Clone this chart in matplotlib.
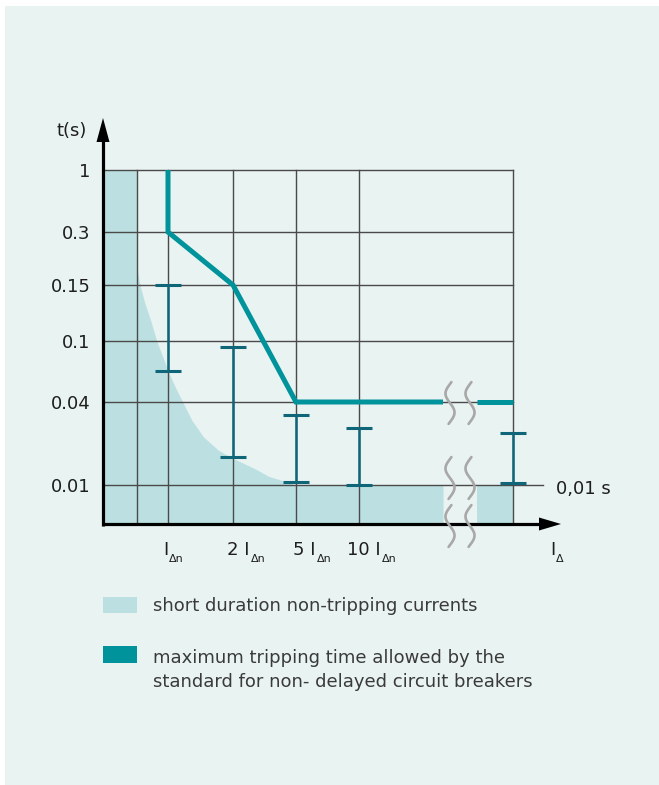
import numpy as np
import matplotlib
matplotlib.use("Agg")
import matplotlib.pyplot as plt
from matplotlib.patches import Rectangle, Polygon

plt.rcParams['font.family'] = ['DejaVu Sans']

# ---------------- data ----------------
y_ticks = [0.01, 0.04, 0.1, 0.15, 0.3, 1]
y_tick_labels = ['0.01', '0.04', '0.1', '0.15', '0.3', '1']
x_grid = [0.5, 1, 2, 5, 10, 50]            # multiples of I_dn (50 = far right, after break)
x_tick_vals = [1, 2, 5, 10]
x_tick_prefix = ['', '2 ', '5 ', '10 ']

# maximum tripping time (thick teal line), before and after the axis break
trip_x = [1, 1, 2, 5, 20]
trip_t = [1, 0.3, 0.15, 0.04, 0.04]
trip_x2 = [40, 50]
trip_t2 = [0.04, 0.04]

# tripping-time ranges (I-bars)
bar_x = [1, 2, 5, 10, 50]
bar_low = [0.064, 0.016, 0.0105, 0.01, 0.0103]
bar_high = [0.15, 0.092, 0.032, 0.026, 0.024]

# boundary of the short duration non-tripping region
nontrip_x = [0.5, 0.505, 0.548, 0.629, 0.721, 0.818, 0.915, 1.005, 1.108, 1.226,
             1.365, 1.543, 1.774, 1.954, 2.57, 3.14, 3.67, 4.24, 4.71, 5.0]
nontrip_t = [0.2, 0.182, 0.15, 0.131, 0.116, 0.1, 0.079, 0.063, 0.0504, 0.04,
             0.0296, 0.0224, 0.0179, 0.016, 0.0142, 0.0129, 0.0116, 0.0109, 0.0103, 0.01]

legend_labels = ['short duration non-tripping currents',
                 'maximum tripping time allowed by the\nstandard for non- delayed circuit breakers']

# ---------------- style ----------------
BG = '#E9F3F1'
FILL = '#BCE0E1'
TRIP = '#00939B'
BAR = '#0E6678'
GRID = '#4A4A4A'
SQUIG = '#A8A8A8'
TXT = '#1E1E1E'
LEG = '#3A3A3A'

W, H = 659, 785
fig = plt.figure(figsize=(W / 100, H / 100), dpi=100)
fig.patch.set_facecolor('white')

def fx(px):
    return px / W

def fy(py):
    return 1 - py / H

fig.add_artist(Rectangle((fx(5), 0), 1 - fx(5), fy(6), transform=fig.transFigure,
                         facecolor=BG, edgecolor='none', zorder=0))

# axes frame: x 103..513 px, y 170..524 px
AX_L, AX_R, AX_T, AX_B = 103, 513, 170, 524
AW, AH = AX_R - AX_L, AX_B - AX_T
ax = fig.add_axes([fx(AX_L), fy(AX_B), AW / W, AH / H])
ax.set_facecolor('none')

# schematic (non-uniform) scales
X_VALS = [0, 0.5, 1, 2, 5, 10, 20, 40, 50]
X_POS = [0, 34, 65, 130, 193, 256, 340, 374, 410]
Y_VALS = [0.005, 0.01, 0.04, 0.1, 0.15, 0.3, 1]
Y_POS = [0, 39, 122, 183, 239, 292, 354]
LY = np.log10(Y_VALS)

def xfwd(v):
    return np.interp(v, X_VALS, X_POS)

def xinv(p):
    return np.interp(p, X_POS, X_VALS)

def yfwd(t):
    t = np.clip(np.asarray(t, dtype=float), 1e-6, None)
    return np.interp(np.log10(t), LY, Y_POS)

def yinv(p):
    return 10 ** np.interp(p, Y_POS, LY)

ax.set_xscale('function', functions=(xfwd, xinv))
ax.set_yscale('function', functions=(yfwd, yinv))
ax.set_xlim(0, 50)
ax.set_ylim(0.005, 1)
ax.minorticks_off()

for s in ax.spines.values():
    s.set_visible(False)

# light non-tripping region
fx_pts = [0, 0.5] + nontrip_x + [20]
fy_pts = [1, 1] + nontrip_t + [0.01]
ax.fill_between(fx_pts, 0.005, fy_pts, color=FILL, lw=0, zorder=1)
ax.fill_between([40, 50], 0.005, 0.01, color=FILL, lw=0, zorder=1)

# grid
for v in x_grid:
    ax.axvline(v, color=GRID, lw=1.0, zorder=2, clip_on=False)
for t in y_ticks:
    if t == 0.01:
        ax.plot([0, 440 / AW], [t, t], transform=ax.get_yaxis_transform(),
                color=GRID, lw=1.0, zorder=2, clip_on=False)
    else:
        ax.axhline(t, color=GRID, lw=1.0, zorder=2, clip_on=False)

# tripping bars
bl = np.array(bar_low)
bh = np.array(bar_high)
ax.errorbar(bar_x, bl, yerr=[np.zeros_like(bl), bh - bl], fmt='none',
            ecolor=BAR, elinewidth=1.8, capsize=9.5, capthick=2.2, zorder=4,
            clip_on=False)

# max tripping time line
ax.plot(trip_x, trip_t, color=TRIP, lw=3.6, solid_joinstyle='miter',
        solid_capstyle='butt', zorder=5, clip_on=False)
ax.plot(trip_x2, trip_t2, color=TRIP, lw=3.6, solid_capstyle='butt',
        zorder=5, clip_on=False)

# axes with arrows (in axes fraction)
axk = dict(transform=ax.transAxes, clip_on=False, zorder=6)
ax.plot([0, 0], [-1.5 / AH, 1 + 30 / AH], color='black', lw=2.3,
        solid_capstyle='butt', **axk)
ax.plot([-1.5 / AW, 1 + 28 / AW], [0, 0], color='black', lw=2.3,
        solid_capstyle='butt', **axk)
ax.add_patch(Polygon([(0, 1 + 52 / AH), (-6.5 / AW, 1 + 28 / AH), (6.5 / AW, 1 + 28 / AH)],
                     closed=True, facecolor='black', edgecolor='none', **axk))
ax.add_patch(Polygon([(1 + 48 / AW, 0), (1 + 26 / AW, 6.5 / AH), (1 + 26 / AW, -6.5 / AH)],
                     closed=True, facecolor='black', edgecolor='none', **axk))

# break squiggles (decoration)
s = np.linspace(-0.05, 1.05, 60)
for cx in (450, 470):
    for cy in (403, 478, 526):
        xs = (cx - 4.5 * np.sin(2 * np.pi * s) - AX_L) / AW
        ys = (AX_B - (cy - 19 + 38 * s)) / AH
        ax.plot(xs, ys, color=SQUIG, lw=1.9, solid_capstyle='round', **dict(axk, zorder=7))

# y tick labels
ax.set_yticks(y_ticks, y_tick_labels)
ax.set_xticks([])
ax.tick_params(axis='y', length=0, pad=9, labelsize=13, labelcolor=TXT)

# x labels with subscripts
offs = [-5, -6, -3, -12]
for v, pre, dx in zip(x_tick_vals, x_tick_prefix, offs):
    main = ax.annotate(pre + 'I', xy=(v, 0), xycoords=('data', 'axes fraction'),
                       xytext=(dx, -31), textcoords='offset pixels',
                       ha='left', va='baseline', fontsize=13, color=TXT)
    ax.annotate('Δn', xy=(1, 0), xycoords=main, xytext=(1, -3),
                textcoords='offset pixels', ha='left', va='baseline',
                fontsize=8, color=TXT)

# I_Delta axis label
mainI = fig.text(fx(550), fy(555), 'I', ha='left', va='baseline', fontsize=13, color=TXT)
ax.annotate('Δ', xy=(1, 0), xycoords=mainI, xytext=(1, -3), textcoords='offset pixels',
            ha='left', va='baseline', fontsize=8, color=TXT)

fig.text(fx(72), fy(131), 't(s)', ha='center', va='center', fontsize=13, color=TXT)
fig.text(fx(556), fy(489), '0,01 s', ha='left', va='center', fontsize=13, color=TXT)

# legend
fig.add_artist(Rectangle((fx(103), fy(613)), 34 / W, 16 / H, transform=fig.transFigure,
                         facecolor=FILL, edgecolor='none'))
fig.add_artist(Rectangle((fx(103), fy(663)), 34 / W, 17 / H, transform=fig.transFigure,
                         facecolor=TRIP, edgecolor='none'))
fig.text(fx(153), fy(606), legend_labels[0], ha='left', va='center', fontsize=13,
         color=LEG)
fig.text(fx(153), fy(670), legend_labels[1], ha='left', va='center', fontsize=13,
         color=LEG, linespacing=1.45)

fig.savefig('out.png', dpi=100, facecolor=fig.get_facecolor())
